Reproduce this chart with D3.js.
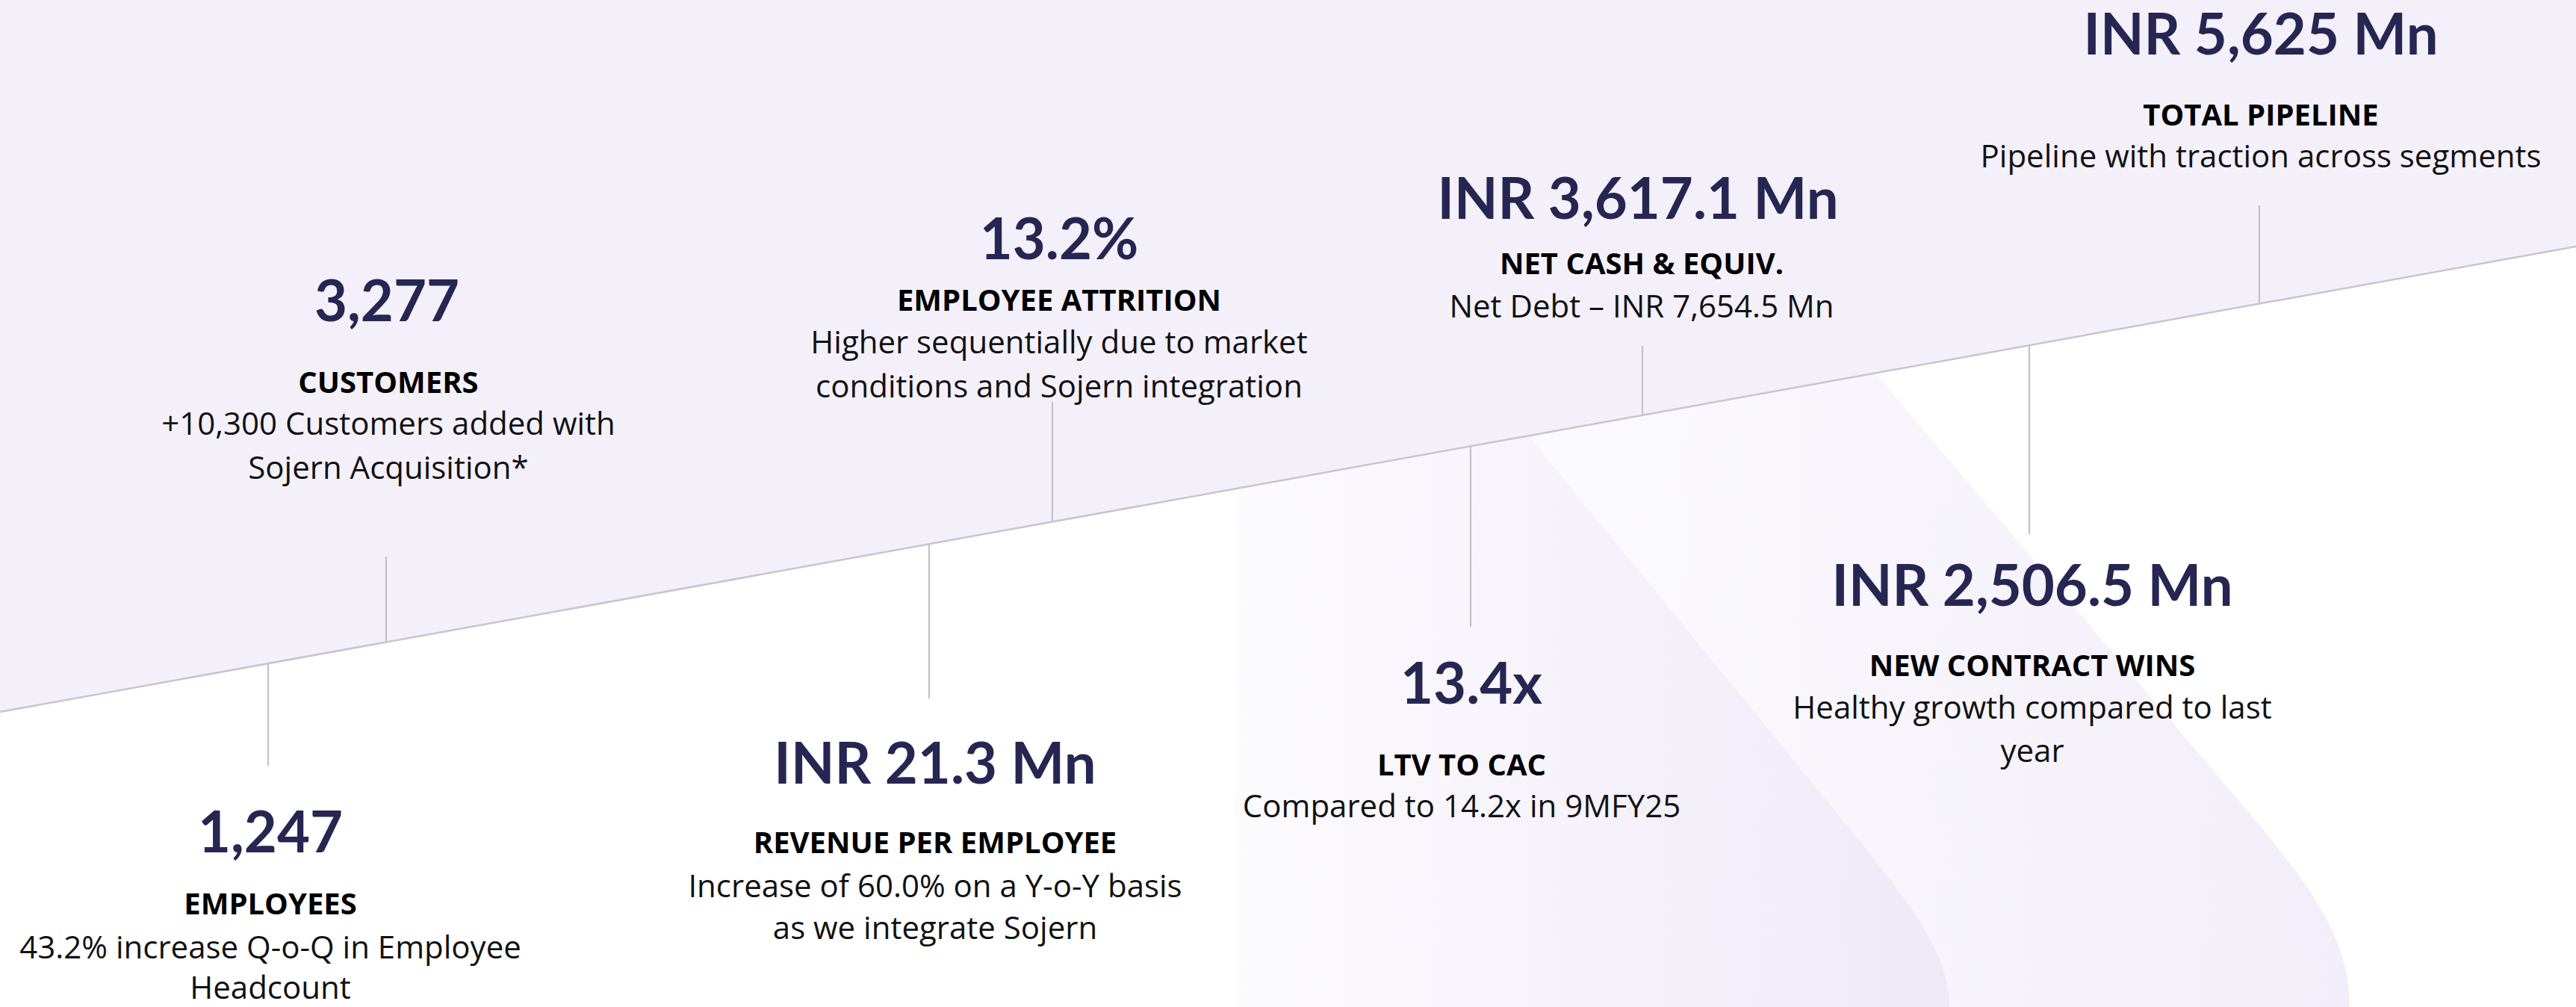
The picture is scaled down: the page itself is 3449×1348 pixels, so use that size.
<!DOCTYPE html>
<html>
<head>
<meta charset="utf-8">
<script src="https://cdn.jsdelivr.net/npm/d3@7"></script>
<style>
  html, body { margin: 0; padding: 0; background: #ffffff; }
  svg { display: block; }
</style>
</head>
<body>
<div id="chart"></div>
<script>
// ---------------- DATA ----------------
const metricKeys   = ["pipeline", "netCash", "attrition", "customers", "employees", "revenuePerEmployee", "ltvToCac", "newContracts"];
const metricValues = ["INR 5,625 Mn", "INR 3,617.1 Mn", "13.2%", "3,277", "1,247", "INR 21.3 Mn", "13.4x", "INR 2,506.5 Mn"];
const metricLabels = ["TOTAL PIPELINE", "NET CASH & EQUIV.", "EMPLOYEE ATTRITION", "CUSTOMERS", "EMPLOYEES", "REVENUE PER EMPLOYEE", "LTV TO CAC", "NEW CONTRACT WINS"];
const metricNotes  = [
  ["Pipeline with traction across segments"],
  ["Net Debt \u2013 INR 7,654.5 Mn"],
  ["Higher sequentially due to market", "conditions and Sojern integration"],
  ["+10,300 Customers added with", "Sojern Acquisition*"],
  ["43.2% increase Q-o-Q in Employee", "Headcount"],
  ["Increase of 60.0% on a Y-o-Y basis", "as we integrate Sojern"],
  ["Compared to 14.2x in 9MFY25"],
  ["Healthy growth compared to last", "year"]
];
const metricSide   = ["above", "above", "above", "above", "below", "below", "below", "below"];

// ---------------- LAYOUT (positions only) ----------------
const W = 3449, H = 1348;
const layout = {
  pipeline:           { tickX: 3025, textX: 3027, valueX: 3027, valueY: 73,   labelY: 168,  noteY: [224],        tickEnd: 275 },
  netCash:            { tickX: 2199, textX: 2198, valueX: 2193, valueY: 293,  labelY: 367,  noteY: [425],        tickEnd: 463 },
  attrition:          { tickX: 1409, textX: 1418, valueX: 1418, valueY: 347,  labelY: 416,  noteY: [473, 532],   tickEnd: 538 },
  customers:          { tickX: 517,  textX: 520,  valueX: 518,  valueY: 430,  labelY: 526,  noteY: [582, 641],   tickEnd: 745 },
  employees:          { tickX: 359,  textX: 362,  valueX: 362,  valueY: 1141, labelY: 1224, noteY: [1283, 1337], tickEnd: 1025 },
  revenuePerEmployee: { tickX: 1244, textX: 1252, valueX: 1252, valueY: 1049, labelY: 1142, noteY: [1201, 1257], tickEnd: 935 },
  ltvToCac:           { tickX: 1969, textX: 1957, valueX: 1970, valueY: 942,  labelY: 1038, noteY: [1094],       tickEnd: 839 },
  newContracts:       { tickX: 2717, textX: 2721, valueX: 2721, valueY: 811,  labelY: 905,  noteY: [962, 1020],  tickEnd: 715 }
};

const VALUE_FONT = "Lato, 'Open Sans', 'Noto Sans', sans-serif";
const TEXT_FONT  = "'Open Sans', 'Noto Sans', Lato, sans-serif";
const colors = {
  upper: "#f4f0fa",
  divider: "#c9c4cf",
  tick: "#c2c2c2",
  value: "#262652",
  label: "#000000",
  note: "#111111"
};

// Divider line as a linear scale: x -> y
const dividerY = d3.scaleLinear().domain([0, W]).range([953, 330]);

const svg = d3.select("#chart").append("svg")
  .attr("width", W).attr("height", H)
  .attr("viewBox", `0 0 ${W} ${H}`);

svg.append("rect").attr("width", W).attr("height", H).attr("fill", "#ffffff");

// ---------------- decorative swooshes ----------------
const defs = svg.append("defs");
function grad(id, x1, x2, c1, c2) {
  const g = defs.append("linearGradient").attr("id", id)
    .attr("gradientUnits", "userSpaceOnUse")
    .attr("x1", x1).attr("y1", 0).attr("x2", x2).attr("y2", 0);
  g.append("stop").attr("offset", 0).attr("stop-color", c1);
  g.append("stop").attr("offset", 1).attr("stop-color", c2);
}
grad("band1", 1654, 2610, "#fcfbfe", "#efe9f7");
grad("band2", 2100, 3150, "#fbfafd", "#f2eef9");

function swoosh(leftX, topY, edgeTop, edgeBend, bottomX) {
  const p = d3.path();
  p.moveTo(leftX, topY);
  p.lineTo(edgeTop[0], edgeTop[1]);
  p.lineTo(edgeBend[0], edgeBend[1]);
  p.bezierCurveTo(edgeBend[0] + 55, edgeBend[1] + 70, bottomX, edgeBend[1] + 140, bottomX, H);
  p.lineTo(leftX, H);
  p.closePath();
  return p.toString();
}
svg.append("path").attr("d", swoosh(1654, 400, [2426, 400], [3030, 1110], 3146)).attr("fill", "url(#band2)");
svg.append("path").attr("d", swoosh(1654, 480, [1962, 480], [2495, 1132], 2610)).attr("fill", "url(#band1)");

// ---------------- upper region + divider ----------------
svg.append("path")
  .attr("d", d3.line()([[0, 0], [W, 0], [W, dividerY(W)], [0, dividerY(0)]]) + "Z")
  .attr("fill", colors.upper);

svg.append("line")
  .attr("x1", 0).attr("y1", dividerY(0))
  .attr("x2", W).attr("y2", dividerY(W))
  .attr("stroke", colors.divider).attr("stroke-width", 2.5);

// ---------------- metrics ----------------
const metrics = metricKeys.map((k, i) => ({
  key: k, value: metricValues[i], label: metricLabels[i], notes: metricNotes[i], side: metricSide[i], pos: layout[k]
}));

const g = svg.selectAll("g.metric").data(metrics).join("g").attr("class", "metric");

g.append("line")
  .attr("x1", d => d.pos.tickX).attr("x2", d => d.pos.tickX)
  .attr("y1", d => d.side === "above" ? d.pos.tickEnd : dividerY(d.pos.tickX))
  .attr("y2", d => d.side === "above" ? dividerY(d.pos.tickX) : d.pos.tickEnd)
  .attr("stroke", colors.tick).attr("stroke-width", 2.2);

g.append("text")
  .attr("x", d => d.pos.valueX).attr("y", d => d.pos.valueY)
  .attr("text-anchor", "middle")
  .attr("font-family", VALUE_FONT).attr("font-weight", 700).attr("font-size", 76)
  .attr("fill", colors.value)
  .text(d => d.value);

g.append("text")
  .attr("x", d => d.pos.textX).attr("y", d => d.pos.labelY)
  .attr("text-anchor", "middle")
  .attr("font-family", TEXT_FONT).attr("font-weight", 700).attr("font-size", 40)
  .attr("fill", colors.label)
  .text(d => d.label);

g.each(function(d) {
  d3.select(this).selectAll("text.note").data(d.notes).join("text")
    .attr("class", "note")
    .attr("x", d.pos.textX).attr("y", (t, j) => d.pos.noteY[j])
    .attr("text-anchor", "middle")
    .attr("font-family", TEXT_FONT).attr("font-weight", 400).attr("font-size", 42)
    .attr("fill", colors.note)
    .text(t => t);
});
</script>
</body>
</html>
